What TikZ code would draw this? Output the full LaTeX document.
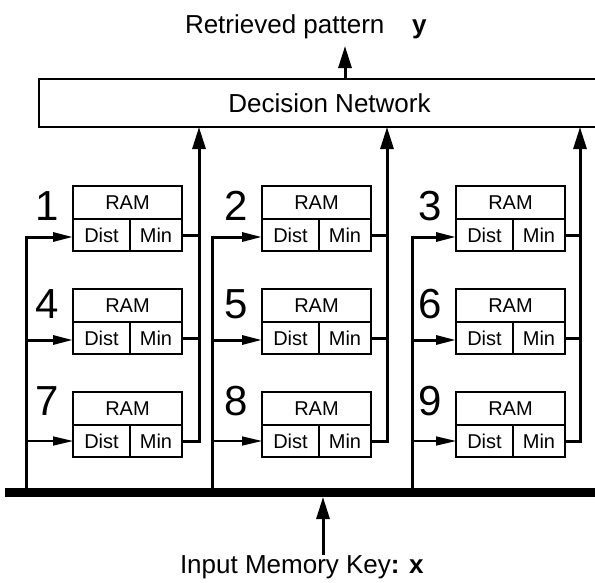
\documentclass[tikz,border=0pt]{standalone}
\usepackage{fontspec}
\setmainfont{Liberation Sans}
\usetikzlibrary{arrows.meta,calc}
\tikzset{
  bigtext/.style={inner sep=0pt, outer sep=0pt, font=\fontsize{26}{30}\selectfont},
  numtext/.style={inner sep=0pt, outer sep=0pt, font=\fontsize{42}{46}\selectfont},
  ramtop/.style={draw, line width=1.3pt, minimum width=109pt, minimum height=33pt, inner sep=0pt, outer sep=0pt, anchor=north west, font=\fontsize{20}{22}\selectfont},
  cell/.style={draw, line width=1.3pt, minimum height=32pt, inner sep=0pt, outer sep=0pt, font=\fontsize{20}{22}\selectfont},
  boxout/.style={line width=2pt},
  wire/.style={line width=3pt},
  thinwire/.style={line width=1.4pt},
  bigtip/.style={-{Triangle[length=22pt,width=13pt]}},
  smalltip/.style={-{Triangle[length=20pt,width=9pt]}},
}
\begin{document}
\begin{tikzpicture}[x=1pt,y=-1pt]
\useasboundingbox (0,0) rectangle (595,582);
% decision network
\node[draw, line width=2.7pt, minimum width=581pt, minimum height=48pt, anchor=north west, inner sep=0pt, outer sep=0pt, font=\fontsize{26}{30}\selectfont] (dn) at (39,79) {Decision Network};
% output
\node[bigtext, anchor=base west] (ret) at (185,33.5) {Retrieved pattern};
\node[bigtext, anchor=base west] (yv) at (412,33.5) {\textbf{y}};
\coordinate (outtip) at (345,46);
\draw[wire,bigtip] (dn.north -| outtip) -- (outtip);
% bus
\node[fill=black, minimum width=600pt, minimum height=9pt, inner sep=0pt, outer sep=0pt, anchor=west] (bus) at (5,492.5) {};
% input
\node[bigtext, anchor=base west] (inp) at (180,573) {Input Memory Key\textbf{: x}};
\coordinate (inx) at (323,520);
\draw[wire,bigtip] (inp.north -| inx) -- (bus.south -| inx);
% RAM units
\foreach \c/\L/\V/\U in {1/73/26/199, 2/262/212/387, 3/456/412/580} {
  \foreach \r/\T/\B in {0/186/220, 1/289/318, 2/392/415} {
    \pgfmathtruncatemacro\n{\r*3+\c}
    \node[ramtop] (ram\n) at (\L,\T) {RAM};
    \node[cell, minimum width=57pt, anchor=north west] (dist\n) at (ram\n.south west) {Dist};
    \node[cell, minimum width=52pt, anchor=north east] (min\n) at (ram\n.south east) {Min};
    \draw[boxout] (ram\n.north west) rectangle (min\n.south east);
    \node[numtext, anchor=base east] (lab\n) at (\L-14,\B) {\n};
  }
  \pgfmathtruncatemacro\a{\c}
  \pgfmathtruncatemacro\b{\c+3}
  \pgfmathtruncatemacro\d{\c+6}
  \coordinate (tap\c) at (\V,400);
  \coordinate (up\c) at (\U,300);
  % inputs
  \draw[wire,smalltip] (bus.north -| tap\c) |- ([yshift=-2pt]dist\a.west);
  \draw[wire,smalltip] ([yshift=-2pt]dist\b.west -| tap\c) -- ([yshift=-2pt]dist\b.west);
  \draw[thinwire,smalltip] (dist\d.west -| tap\c) -- (dist\d.west);
  % outputs
  \draw[wire,bigtip] (min\d.east) -| (dn.south -| up\c);
  \draw[wire] (min\a.east) -- (min\a.east -| up\c);
  \draw[wire] (min\b.east) -- (min\b.east -| up\c);
}
\end{tikzpicture}
\end{document}
